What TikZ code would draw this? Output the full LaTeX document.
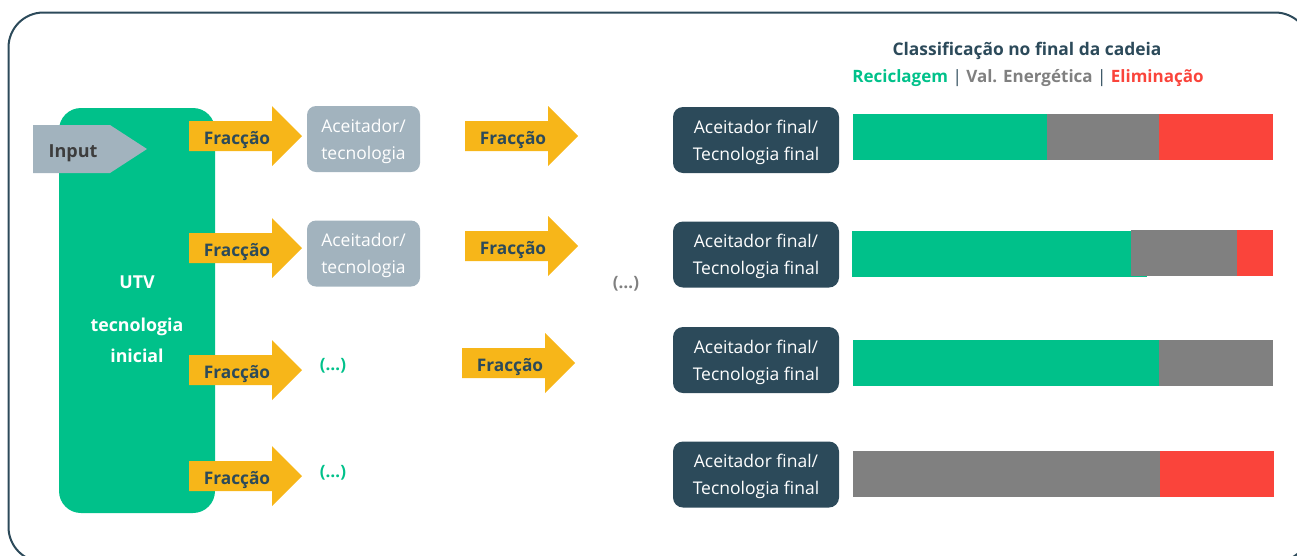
\documentclass[tikz,border=0pt]{standalone}
\usepackage{fontspec}
\setmainfont{Open Sans}
\definecolor{utvgreen}{HTML}{00C18A}
\definecolor{darkblue}{HTML}{2C4A5A}
\definecolor{boxgray}{HTML}{A2B3BE}
\definecolor{fyellow}{HTML}{F7B619}
\definecolor{barred}{HTML}{FA443B}
\definecolor{bargray}{HTML}{808080}
\definecolor{inputtext}{HTML}{3D3D3D}
\newcommand\fracarrow[3]{%
  \fill[fyellow] (#1,#2-15) -- (#1+83,#2-15) -- (#1+83,#2-30) -- (#1+113,#2)
     -- (#1+83,#2+30) -- (#1+83,#2+15) -- (#1,#2+15) -- cycle;
  \node[fractext] (#3) at (#1+48,#2+4) {Fracção};}
\newcommand\accnode[2]{%
  \node[accbox] (#1) at (363.5,#2) {};
  \node[boxtext] (#1t) at ([yshift=-2pt]#1.center) {Aceitador/\\tecnologia};}
\newcommand\finalnode[2]{%
  \node[finalbox] (#1) at (756,#2) {};
  \node[boxtext] (#1t) at ([yshift=-2pt]#1.center) {Aceitador final/\\Tecnologia final};}
\begin{document}
\begin{tikzpicture}[x=1pt,y=-1pt,
  fractext/.style={font=\fontsize{17.3}{20}\selectfont\bfseries, text=darkblue, inner sep=0pt},
  accbox/.style={fill=boxgray, rounded corners=9pt, minimum width=113pt, minimum height=66pt, inner sep=0pt},
  finalbox/.style={fill=darkblue, rounded corners=10pt, minimum width=166pt, minimum height=66pt, inner sep=0pt},
  boxtext/.style={text=white, align=center, inner sep=0pt, font=\fontsize{17.5}{27}\selectfont},
  dots/.style={font=\fontsize{17}{20}\selectfont\bfseries, inner sep=0pt},
  utvtext/.style={font=\fontsize{17.8}{21}\selectfont\bfseries, text=white, inner sep=0pt}]
\useasboundingbox (0,0) rectangle (1297,555);
\begin{scope}
\clip (0,0) rectangle (1297,555);
\draw[darkblue, line width=2pt, rounded corners=35pt] (8.5,12.5) rectangle (1310,562);
\end{scope}
% UTV box
\fill[utvgreen, rounded corners=22pt] (59,108) rectangle (215,513);
\node[utvtext] (utv) at (137,282) {UTV};
\node[utvtext] (tec) at (137,327) {tecnologia};
\node[utvtext] (ini) at (137,356) {inicial};
% Input
\fill[boxgray] (33,125) -- (110,125) -- (147,149) -- (110,173) -- (33,173) -- cycle;
\node[font=\fontsize{18}{21}\selectfont\bfseries, text=inputtext, inner sep=0pt] (input) at (73,153) {Input};
% first column arrows
\fracarrow{189}{136}{f1}
\fracarrow{189}{248}{f2}
\fracarrow{189}{370}{f3}
\fracarrow{189}{476}{f4}
% acceptor boxes
\accnode{a1}{139}
\accnode{a2}{253.5}
\node[dots, text=utvgreen] (d1) at (333,366) {(…)};
\node[dots, text=utvgreen] (d2) at (333,473) {(…)};
% second column arrows
\fracarrow{465}{136}{g1}
\fracarrow{465}{246}{g2}
\fracarrow{462}{363}{g3}
\node[dots, text=bargray] (d3) at (626,284) {(…)};
% final boxes
\finalnode{e1}{140}
\finalnode{e2}{254.5}
\finalnode{e3}{360}
\finalnode{e4}{474.5}
% title
\node[font=\fontsize{17.4}{20}\selectfont\bfseries, text=darkblue, inner sep=0pt] (title) at (1027,51) {Classificação no final da cadeia};
\node[font=\fontsize{17}{20}\selectfont, inner sep=0pt] (legend) at (1028,78)
  {\textcolor{utvgreen}{\bfseries Reciclagem} \textcolor{darkblue}{|} \textcolor{bargray}{\bfseries Val. Energética} \textcolor{darkblue}{|} \textcolor{barred}{\bfseries Eliminação}};
% bars
\fill[utvgreen] (853,114) rectangle (1047,160);
\fill[bargray] (1047,114) rectangle (1159,160);
\fill[barred] (1159,114) rectangle (1273,160);
\fill[utvgreen] (852,231) rectangle (1147,277);
\fill[bargray] (1131,230) rectangle (1237,276);
\fill[barred] (1237,230) rectangle (1273,276);
\fill[utvgreen] (853,340) rectangle (1159,386);
\fill[bargray] (1159,340) rectangle (1273,386);
\fill[bargray] (853,451) rectangle (1160,497);
\fill[barred] (1160,451) rectangle (1274,497);
\end{tikzpicture}
\end{document}
